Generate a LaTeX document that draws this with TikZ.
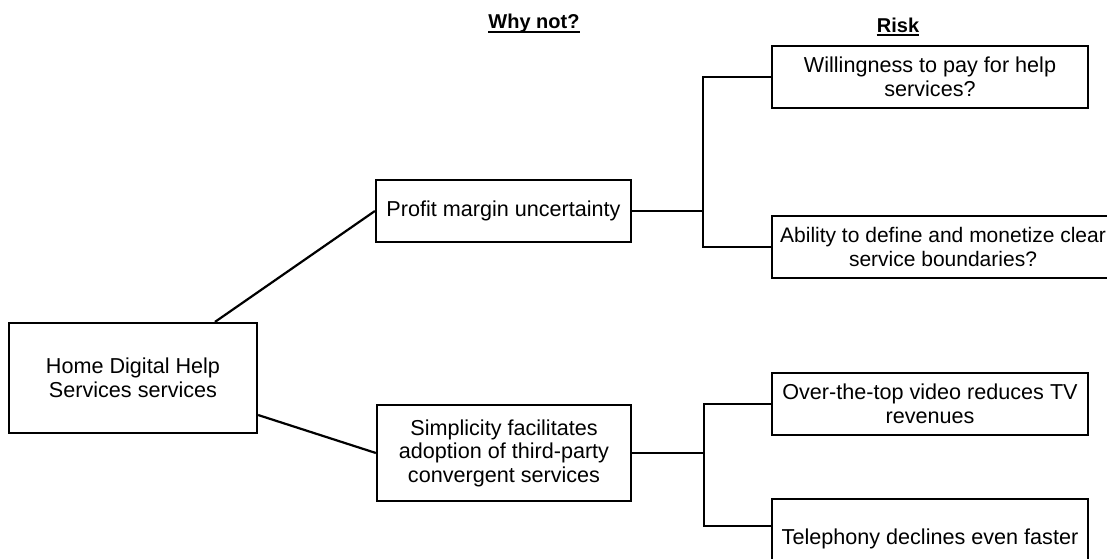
\documentclass[tikz,border=0pt]{standalone}
\usepackage{fontspec}
\setmainfont{Liberation Sans}
\begin{document}
\begin{tikzpicture}[x=1pt,y=-1pt,
  box/.style={draw, line width=2.2pt, inner sep=0pt, align=center,
    font=\fontsize{21.6}{23.5}\selectfont},
  link/.style={line width=2.2pt},
  heading/.style={inner sep=0pt, anchor=base, font=\bfseries\fontsize{20}{24}\selectfont},
  rulebar/.style={line width=1.8pt}]
\useasboundingbox (0,0) rectangle (1107,558);

% column headings
\node[heading] (why) at (534,28) {Why not?};
\node[heading] (risk) at (898,32) {Risk};
\draw[rulebar] ([yshift=-4pt]why.base west) -- ([yshift=-4pt]why.base east);
\draw[rulebar] ([yshift=-3pt]risk.base west) -- ([yshift=-3pt]risk.base east);

% root
\node[box, minimum width=248pt, minimum height=110pt] (home) at (133,378)
  {Home Digital Help\\Services services};

% reasons
\node[box, minimum width=255pt, minimum height=62pt] (profit) at (503.5,211)
  {Profit margin uncertainty};
\node[box, minimum width=254pt, minimum height=96pt] (simp) at (504,453)
  {Simplicity facilitates\\adoption of third-party\\convergent services};

% risks
\node[box, minimum width=316pt, minimum height=62pt] (will) at (930,77)
  {Willingness to pay for help\\services?};
\node[box, minimum width=342pt, minimum height=62pt,
      font=\fontsize{21}{23.5}\selectfont] (abil) at (943,247)
  {Ability to define and monetize clear\\service boundaries?};
\node[box, minimum width=316pt, minimum height=62pt] (ott) at (930,404)
  {Over-the-top video reduces TV\\revenues};
\node[box, minimum width=316pt, minimum height=80pt] (tel) at (930,539)
  {Telephony declines even faster};

% root to reasons
\draw[link] ([xshift=82pt]home.north) -- (profit.west);
\draw[link] ([yshift=-37pt]home.east) -- (simp.west);

% reasons to risks
\draw[link] (profit.east) -- ++(71,0) coordinate (fork1);
\draw[link] (will.west) -| (fork1) |- (abil.west);
\draw[link] (simp.east) -- ++(72,0) coordinate (fork2);
\draw[link] (ott.west) -| (fork2) |- ([yshift=13pt]tel.west);
\end{tikzpicture}
\end{document}
